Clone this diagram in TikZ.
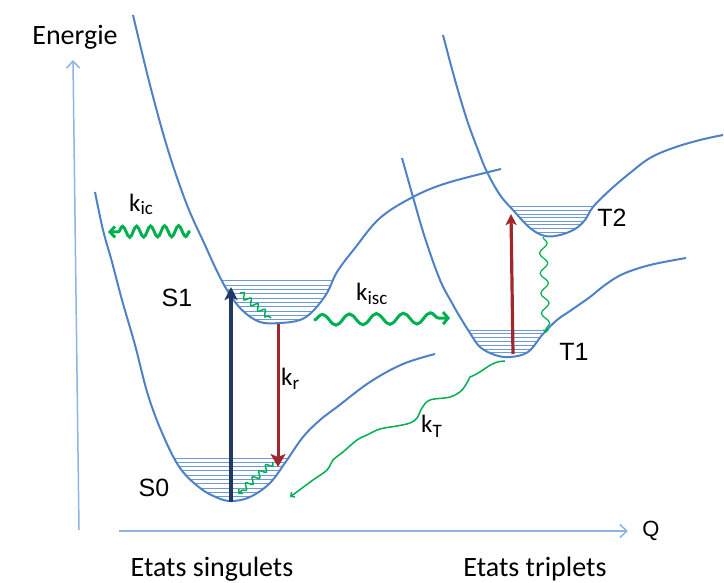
\documentclass[tikz,border=0pt]{standalone}
\usepackage{fontspec}
\setmainfont{Carlito}
\newfontfamily\arialf{Liberation Sans}
\usetikzlibrary{arrows.meta,decorations.pathmorphing}
\definecolor{curveblue}{RGB}{79,129,199}
\definecolor{levblue}{RGB}{110,152,215}
\definecolor{axisblue}{RGB}{141,180,226}
\definecolor{wgreen}{RGB}{0,176,80}
\definecolor{dred}{RGB}{160,40,45}
\definecolor{navyc}{RGB}{31,56,100}
\def\curveSzero{plot[smooth,tension=0.6] coordinates {(95,192) (103,230) (112,262) (122,300) (135,345) (148,395) (163,435) (180,468) (200,488) (218,498) (232,501) (250,497) (270,483) (287,460) (303,437) (320,420) (337,407) (370,382) (403,364) (435,354)}}
\def\curveSone{plot[smooth,tension=0.6] coordinates {(133,15) (150,85) (168,150) (187,205) (205,245) (215,267) (227,290) (242,310) (260,322) (280,323) (300,320) (313,311) (327,293) (337,272) (355,248) (380,218) (413,197) (447,183) (501,169)}}
\def\curveTone{plot[smooth,tension=0.6] coordinates {(402,158) (413,197) (425,238) (440,280) (452,303) (460,317) (470,333) (480,347) (495,355) (510,357) (528,352) (543,334) (557,320) (570,311) (590,297) (605,285) (623,274) (650,265) (686,258)}}
\def\curveTtwo{plot[smooth,tension=0.6] coordinates {(443,35) (455,80) (467,120) (478,150) (487,172) (500,195) (513,210) (530,228) (545,236) (560,235) (575,229) (585,220) (593,207) (610,190) (630,173) (650,158) (673,148) (700,140) (723,135)}}
\begin{document}
\begin{tikzpicture}[x=1pt,y=-1pt,
  pes/.style={curveblue, line width=2pt},
  lev/.style={levblue, line width=1pt},
  axisln/.style={axisblue, line width=1.5pt, -{Straight Barb[length=7pt,width=13pt]}},
  wave/.style={wgreen, decorate, decoration={snake,#1}},
  lbl/.style={font=\fontsize{28}{30}\selectfont, anchor=base},
  stlbl/.style={font=\arialf\fontsize{25}{27}\selectfont, anchor=base},
  klbl/.style={font=\fontsize{25}{27}\selectfont, anchor=base west, inner sep=0pt},
]
\useasboundingbox (0,0) rectangle (724,583);
% axes
\coordinate (yaxb) at (79,530);
\coordinate (yaxt) at (73,60);
\coordinate (xaxl) at (119,531);
\coordinate (xaxr) at (628,531);
\draw[axisln] (yaxb) -- (yaxt);
\draw[axisln] (xaxl) -- (xaxr);
% vibrational levels
\begin{scope}
  \clip \curveSone -- cycle;
  \foreach \i in {0,...,9} \draw[lev] (150,{281+4.33*\i}) -- (400,{281+4.33*\i});
\end{scope}
\begin{scope}
  \clip \curveSzero -- cycle;
  \foreach \i in {0,...,9} \draw[lev] (120,{458+4.33*\i}) -- (340,{458+4.33*\i});
\end{scope}
\begin{scope}
  \clip \curveTtwo -- cycle;
  \foreach \i in {0,...,7} \draw[lev] (480,{207+3.6*\i}) -- (620,{207+3.6*\i});
\end{scope}
\begin{scope}
  \clip \curveTone -- cycle;
  \foreach \i in {0,...,6} \draw[lev] (440,{330+3.8*\i}) -- (600,{330+3.8*\i});
\end{scope}
% potential curves
\draw[pes] \curveSzero;
\draw[pes] \curveSone;
\draw[pes] \curveTone;
\draw[pes] \curveTtwo;
% coordinates for transitions
\coordinate (s0bot) at (231,502);
\coordinate (s1top) at (231,287);
\coordinate (krs) at (278,324);
\coordinate (kre) at (278,467);
\coordinate (t1b) at (513,354);
\coordinate (t2t) at (511,214);
\coordinate (kic1) at (190,231);
\coordinate (kic2) at (108,232);
\coordinate (kisc1) at (314,320);
\coordinate (kisc2) at (450,318);
\coordinate (w1a) at (240,293);
\coordinate (w1b) at (271,318);
\coordinate (w2a) at (273,462);
\coordinate (w2b) at (238,494);
\coordinate (w3a) at (543,237);
\coordinate (w3b) at (546,333);
% vertical arrows
\draw[navyc, line width=3.2pt, -{Stealth[length=13pt,width=13pt,inset=3pt]}] (s0bot) -- (s1top);
\draw[dred, line width=3pt, -{Stealth[length=13pt,width=15pt,inset=3pt]}] (krs) -- (kre);
\draw[dred, line width=3.2pt, -{Stealth[length=11pt,width=11pt,inset=2.5pt]}] (t1b) -- (t2t);
% wavy transitions
\draw[wave={amplitude=5.5pt,segment length=14pt,post length=7pt}, line width=3pt, -{Straight Barb[length=5pt,width=11pt]}] (kic1) -- (kic2);
\draw[wave={amplitude=5.5pt,segment length=27pt,post length=8pt}, line width=3pt, -{Straight Barb[length=5pt,width=12pt]}] (kisc1) -- (kisc2);
\draw[wave={amplitude=3pt,segment length=9pt}, line width=1.5pt] (w1a) -- (w1b);
\draw[wave={amplitude=3pt,segment length=9pt,post length=3pt}, line width=1.5pt, -{Straight Barb[length=3pt,width=6pt]}] (w2a) -- (w2b);
\draw[wave={amplitude=4pt,segment length=20pt,post length=3pt}, line width=1.2pt, -{Straight Barb[length=2.5pt,width=5pt]}] (w3a) -- (w3b);
\coordinate (kTa) at (505,361);
\coordinate (kTb) at (290,497);
\draw[wgreen, line width=1.5pt, -{Straight Barb[length=3pt,width=6pt]}] (kTa) to[out=180,in=20] (470,377) plot[smooth,tension=0.6] coordinates {(470,377) (462,390) (450,397) (430,400) (422,408) (417,418) (410,423) (397,426) (380,429) (367,435) (357,440) (343,452) (333,460) (327,470) (313,480) (kTb)};
% labels
\node[lbl] (energie) at (75,45) {Energie};
\node[font=\arialf\fontsize{22}{24}\selectfont] (q) at (651,531) {Q};
\node[lbl] (sing) at (212,576) {Etats singulets};
\node[lbl] (trip) at (535,576) {Etats triplets};
\node[stlbl] (s1) at (177,307) {S1};
\node[stlbl] (s0) at (154,496) {S0};
\node[stlbl] (t1) at (574,360) {T1};
\node[stlbl] (t2) at (612,227) {T2};
\node[klbl] (kic) at (129,212) {k\raisebox{-2pt}{\fontsize{19}{20}\selectfont ic}};
\node[klbl] (kisc) at (356,301) {k\raisebox{-4pt}{\fontsize{19}{20}\selectfont isc}};
\node[klbl] (kr) at (281,385) {k\raisebox{-4pt}{\fontsize{19}{20}\selectfont r}};
\node[klbl] (kT) at (421,432) {k\raisebox{-5pt}{\fontsize{19}{20}\selectfont T}};
\end{tikzpicture}
\end{document}
